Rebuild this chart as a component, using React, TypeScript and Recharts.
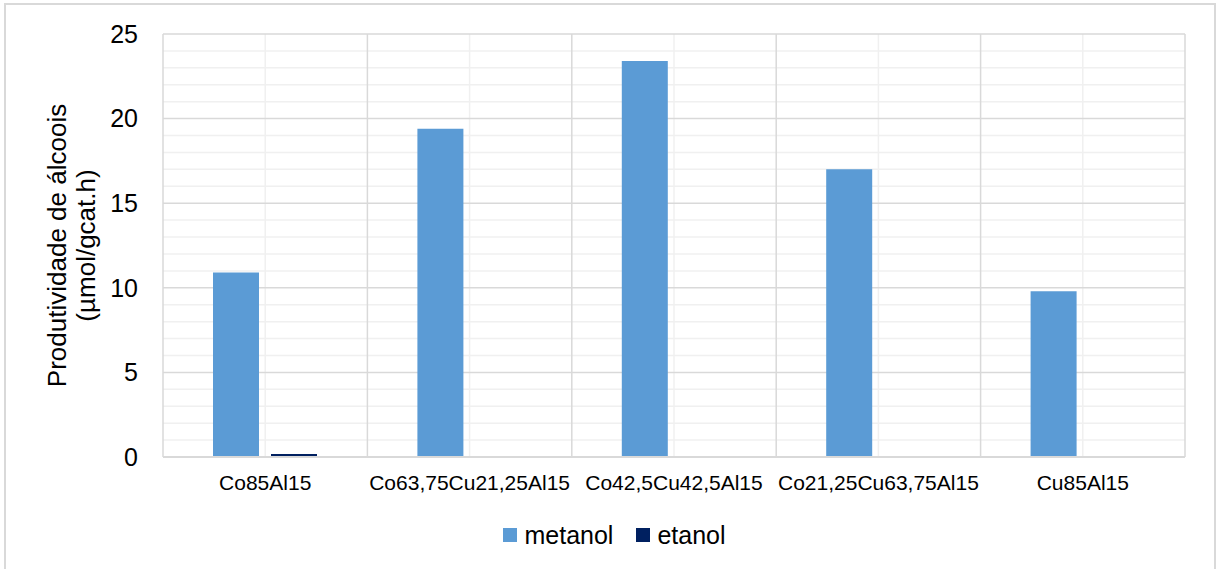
import React from "react";
import { BarChart, Bar, XAxis, YAxis, CartesianGrid, Legend } from "recharts";

const FONT = '"Liberation Sans", Arial, sans-serif';

const categories = [
  "Co85Al15",
  "Co63,75Cu21,25Al15",
  "Co42,5Cu42,5Al15",
  "Co21,25Cu63,75Al15",
  "Cu85Al15",
];
const metanol = [10.9, 19.4, 23.4, 17.0, 9.8];
const etanol = [0.18, 0, 0, 0, 0];

const yTicks = [0, 5, 10, 15, 20, 25];
const yMinorTicks = [1, 2, 3, 4, 6, 7, 8, 9, 11, 12, 13, 14, 16, 17, 18, 19, 21, 22, 23, 24];
// category slot edges and middles, in slot units
const slotEdges = [0, 1, 2, 3, 4, 5];
const slotMiddles = [0.5, 1.5, 2.5, 3.5, 4.5];

const series = [
  { key: "metanol", color: "#5B9BD5" },
  { key: "etanol", color: "#002060" },
];

const data = categories.map((name, i) => ({ name, metanol: metanol[i], etanol: etanol[i] }));

// turn slot units into pixels using the plot offset the chart hands us
const slotLines = (slots: number[]) => (p: any) =>
  slots.map((s) => p.offset.left + (p.offset.width * s) / categories.length);

function YLabel(props: any) {
  const vb = props.viewBox || {};
  const cy = vb.y + vb.height / 2;
  return (
    <g fontFamily={FONT} fontSize={26} fill="#000">
      <text x={57} y={cy} transform={`rotate(-90 57 ${cy})`} textAnchor="middle" dominantBaseline="central">
        Produtividade de álcoois
      </text>
      <text x={86} y={cy} transform={`rotate(-90 86 ${cy})`} textAnchor="middle" dominantBaseline="central">
        (µmol/gcat.h)
      </text>
    </g>
  );
}

function LegendBox() {
  return (
    <div
      style={{
        display: "flex",
        justifyContent: "center",
        alignItems: "center",
        height: 40,
        gap: 23,
        paddingLeft: 9,
        fontFamily: FONT,
        fontSize: 25,
        color: "#000",
      }}
    >
      {series.map((s) => (
        <div key={s.key} style={{ display: "flex", alignItems: "center", gap: 7 }}>
          <span style={{ width: 14, height: 14, background: s.color, display: "inline-block" }} />
          <span>{s.key}</span>
        </div>
      ))}
    </div>
  );
}

export default function App() {
  return (
    <div style={{ position: "absolute", left: 0, top: 0, width: 1220, height: 569, background: "#fff", overflow: "hidden" }}>
      {/* outer chart frame */}
      <div
        style={{
          position: "absolute",
          left: 4,
          top: 3,
          width: 1212,
          height: 580,
          border: "2px solid #d9d9d9",
          boxSizing: "border-box",
        }}
      />
      <div style={{ position: "absolute", left: 0, top: 0 }}>
        <BarChart
          width={1220}
          height={569}
          data={data}
          margin={{ top: 34, right: 35, bottom: 14, left: 0 }}
          barSize={46}
          barGap={12}
        >
          <CartesianGrid
            horizontalValues={yMinorTicks}
            verticalCoordinatesGenerator={slotLines(slotMiddles)}
            stroke="#f0f0f0"
            strokeWidth={1.5}
          />
          <CartesianGrid
            horizontalValues={yTicks}
            verticalCoordinatesGenerator={slotLines(slotEdges)}
            stroke="#d9d9d9"
            strokeWidth={1.5}
          />
          <XAxis
            dataKey="name"
            height={58}
            interval={0}
            tickSize={0}
            tickMargin={18}
            axisLine={{ stroke: "#d9d9d9", strokeWidth: 2 }}
            tick={{ fontSize: 21, fill: "#000", fontFamily: FONT }}
          />
          <YAxis
            width={163}
            domain={[0, 25]}
            ticks={yTicks}
            interval={0}
            tickSize={0}
            tickMargin={25}
            axisLine={false}
            tickLine={false}
            tick={{ fontSize: 25, fill: "#000", fontFamily: FONT }}
            label={<YLabel />}
          />
          {series.map((s) => (
            <Bar key={s.key} dataKey={s.key} fill={s.color} isAnimationActive={false} />
          ))}
          <Legend verticalAlign="bottom" content={<LegendBox />} wrapperStyle={{ left: 0, width: 1220 }} />
        </BarChart>
      </div>
    </div>
  );
}
